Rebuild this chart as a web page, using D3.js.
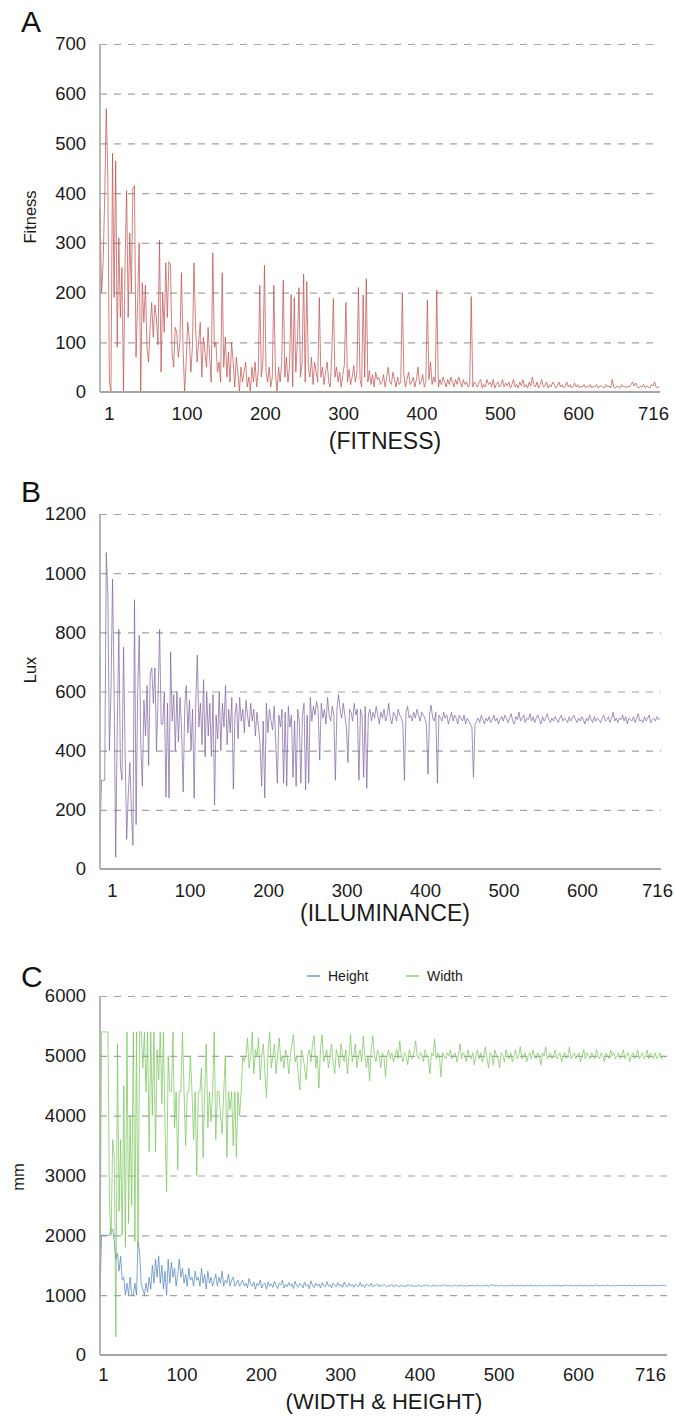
<!DOCTYPE html>
<html>
<head>
<meta charset="utf-8">
<script src="https://cdn.jsdelivr.net/npm/d3@7"></script>
<style>
  body { margin: 0; background: #fff; }
  svg { display: block; font-family: "Liberation Sans", Arial, sans-serif; }
</style>
</head>
<body>
<script>
// generations, sampled every second one (1, 3, ... 715)
const gens = d3.range(1, 717, 2);
const xTicks = [1, 100, 200, 300, 400, 500, 600, 716];

// (A) fitness per generation
const fitness = [
  370, 200, 260, 390, 570, 430, 20, 0, 480, 190,
  465, 90, 310, 150, 250, 0, 260, 405, 150, 320,
  200, 410, 415, 70, 180, 300, 0, 220, 140, 215,
  90, 60, 130, 180, 110, 175, 150, 95, 305, 40,
  200, 120, 260, 150, 262, 255, 80, 50, 130, 120,
  70, 100, 240, 90, 0, 60, 140, 110, 40, 90,
  260, 130, 60, 100, 140, 30, 110, 80, 50, 130,
  70, 20, 280, 90, 100, 40, 60, 20, 240, 50,
  110, 30, 80, 20, 100, 60, 10, 70, 40, 0,
  50, 20, 40, 60, 10, 30, 0, 50, 20, 60,
  10, 40, 215, 30, 60, 255, 40, 20, 50, 10,
  30, 215, 40, 0, 50, 20, 60, 225, 30, 70,
  20, 50, 196, 10, 190, 40, 100, 210, 30, 60,
  237, 20, 222, 50, 30, 70, 15, 60, 40, 20,
  190, 30, 50, 15, 40, 60, 20, 10, 78, 188,
  30, 50, 20, 40, 10, 35, 55, 180, 20, 45,
  15, 30, 53, 20, 40, 210, 25, 10, 195, 30,
  228, 20, 43, 15, 35, 10, 40, 25, 30, 15,
  20, 35, 10, 30, 50, 20, 15, 40, 25, 10,
  30, 15, 20, 200, 35, 10, 25, 40, 15, 20,
  30, 10, 25, 50, 15, 20, 35, 10, 20, 185,
  25, 60, 15, 30, 20, 205, 10, 25, 15, 30,
  20, 10, 25, 15, 30, 20, 10, 25, 15, 30,
  20, 10, 25, 15, 20, 10, 15, 192, 10, 20,
  15, 10, 20, 25, 8, 15, 10, 25, 15, 20,
  10, 25, 8, 15, 20, 10, 15, 25, 10, 18,
  12, 20, 8, 15, 25, 10, 15, 8, 20, 12,
  25, 10, 15, 8, 20, 12, 30, 15, 10, 20,
  8, 15, 25, 10, 12, 20, 8, 15, 10, 20,
  15, 8, 12, 20, 10, 15, 8, 12, 20, 10,
  15, 8, 12, 18, 10, 15, 8, 12, 10, 15,
  8, 12, 10, 15, 8, 12, 10, 15, 8, 12,
  12, 10, 8, 15, 10, 12, 8, 25, 10, 8,
  12, 10, 8, 15, 10, 12, 8, 12, 10, 15,
  20, 12, 18, 10, 8, 12, 10, 15, 8, 12,
  10, 8, 15, 12, 20, 10, 8, 12
];

// (B) illuminance in lux
const lux = [
  130, 300, 300, 300, 1070, 930, 400, 600, 980, 600,
  40, 480, 810, 350, 300, 750, 400, 100, 250, 360,
  200, 80, 910, 150, 600, 790, 420, 280, 570, 450,
  620, 350, 660, 680, 560, 680, 400, 580, 810, 490,
  490, 600, 243, 560, 240, 734, 500, 590, 400, 600,
  430, 580, 470, 260, 550, 620, 460, 570, 400, 540,
  240, 560, 723, 480, 560, 420, 640, 380, 600, 450,
  560, 380, 590, 216, 520, 440, 600, 400, 560, 480,
  620, 420, 540, 460, 580, 270, 520, 560, 440, 580,
  500, 540, 460, 570, 520, 480, 560, 500, 540, 450,
  530, 480, 420, 280, 500, 240, 560, 460, 540, 500,
  470, 550, 430, 290, 520, 480, 540, 290, 530, 280,
  550, 480, 520, 310, 500, 280, 540, 500, 290, 520,
  560, 267, 520, 290, 580, 500, 550, 520, 566, 540,
  368, 560, 510, 540, 490, 580, 520, 500, 550, 520,
  300, 540, 590, 540, 510, 560, 520, 480, 360, 540,
  530, 500, 560, 520, 540, 300, 540, 520, 310, 550,
  273, 520, 540, 500, 530, 510, 550, 520, 490, 530,
  510, 540, 500, 520, 560, 510, 490, 530, 520, 500,
  540, 520, 510, 490, 300, 530, 550, 510, 520, 500,
  530, 510, 540, 520, 500, 530, 520, 510, 490, 320,
  520, 554, 510, 500, 530, 290, 520, 510, 500, 530,
  510, 520, 490, 510, 530, 500, 520, 510, 490, 520,
  510, 500, 520, 490, 510, 500, 490, 480, 310, 490,
  500, 510, 495, 520, 505, 490, 510, 500, 515, 495,
  505, 520, 500, 510, 490, 505, 515, 500, 520, 510,
  495, 510, 525, 500, 490, 515, 505, 530, 500, 510,
  520, 495, 510, 505, 525, 500, 515, 495, 510, 520,
  505, 490, 515, 500, 510, 525, 505, 495, 510, 500,
  515, 505, 495, 510, 520, 500, 510, 505, 495, 515,
  500, 510, 520, 505, 495, 510, 500, 515, 505, 490,
  510, 500, 520, 505, 495, 515, 500, 510, 505, 495,
  510, 520, 500, 505, 515, 495, 510, 530, 500, 510,
  495, 510, 505, 520, 500, 515, 490, 510, 505, 500,
  515, 495, 510, 525, 500, 505, 495, 515, 500, 510,
  520, 495, 505, 510, 500, 515, 505, 510
];

// (C) window height in mm
const heightMm = [
  1000, 2000, 2000, 2000, 2000, 2000, 2000, 2100, 2100, 1900,
  1600, 1700, 1400, 1650, 1250, 1300, 1000, 1200, 1000, 1300,
  1000, 1000, 1200, 1000, 1900, 1700, 1200, 1100, 1000, 1200,
  1050, 1300, 1100, 1500, 1200, 1600, 1300, 1650, 1200, 1500,
  1100, 1400, 1000, 1600, 1200, 1550, 1300, 1450, 1150, 1350,
  1600, 1300, 1450, 1200, 1350, 1150, 1450, 1250, 1300, 1150,
  1400, 1250, 1300, 1150, 1450, 1200, 1350, 1100, 1400, 1200,
  1300, 1150, 1250, 1350, 1150, 1300, 1200, 1400, 1150, 1250,
  1200, 1350, 1150, 1250, 1300, 1150, 1200, 1250, 1150, 1200,
  1250, 1150, 1200, 1120, 1280, 1180, 1150, 1220, 1100, 1200,
  1160, 1250, 1120, 1180, 1200, 1100, 1220, 1150, 1190, 1130,
  1230, 1160, 1110, 1200, 1170, 1250, 1120, 1180, 1140, 1210,
  1150, 1190, 1110, 1230, 1160, 1130, 1200, 1170, 1120, 1220,
  1150, 1180, 1110, 1240, 1160, 1130, 1200, 1150, 1190, 1120,
  1210, 1160, 1140, 1230, 1150, 1180, 1120, 1200, 1160, 1140,
  1210, 1150, 1180, 1130, 1220, 1160, 1140, 1200, 1150, 1180,
  1130, 1190, 1160, 1140, 1210, 1150, 1170, 1130, 1190, 1160,
  1150, 1200, 1140, 1170, 1160, 1190, 1140, 1170, 1150, 1180,
  1160, 1140, 1170, 1150, 1180, 1140, 1160, 1170, 1150, 1140,
  1170, 1150, 1160, 1140, 1180, 1160, 1150, 1170, 1140, 1160,
  1150, 1170, 1160, 1140, 1165, 1155, 1175, 1150, 1160, 1145,
  1170, 1155, 1160, 1145, 1165, 1150, 1160, 1175, 1150, 1160,
  1155, 1165, 1145, 1160, 1170, 1150, 1160, 1155, 1170, 1150,
  1160, 1145, 1165, 1155, 1160, 1170, 1150, 1160, 1165, 1155,
  1160, 1150, 1170, 1155, 1165, 1150, 1160, 1185, 1155, 1160,
  1165, 1150, 1160, 1170, 1155, 1160, 1150, 1165, 1160, 1155,
  1170, 1160, 1150, 1165, 1155, 1160, 1170, 1150, 1160, 1165,
  1155, 1160, 1170, 1150, 1165, 1160, 1155, 1165, 1160, 1150,
  1165, 1160, 1155, 1170, 1160, 1150, 1165, 1160, 1155, 1165,
  1160, 1150, 1165, 1160, 1170, 1155, 1160, 1165, 1150, 1160,
  1165, 1155, 1160, 1170, 1160, 1155, 1165, 1160, 1150, 1165,
  1160, 1155, 1165, 1170, 1160, 1155, 1160, 1165, 1155, 1160,
  1170, 1160, 1155, 1165, 1160, 1150, 1165, 1160, 1155, 1170,
  1160, 1165, 1155, 1160, 1170, 1160, 1155, 1165, 1160, 1155,
  1165, 1160, 1170, 1155, 1160, 1165, 1160, 1155, 1170, 1160,
  1165, 1160, 1155, 1170, 1160, 1165, 1160, 1165
];

// (C) window width in mm
const widthMm = [
  1150, 5400, 5400, 5400, 5400, 5400, 2450, 2000, 3600, 3300,
  300, 5200, 2400, 3600, 2000, 4500, 1800, 5400, 2200, 4000,
  2500, 5400, 1900, 5400, 1800, 5400, 5400, 4800, 5400, 4400,
  5400, 3400, 5400, 4000, 5400, 3400, 5100, 4600, 5400, 4200,
  5400, 3800, 2730, 5000, 4400, 4400, 5400, 3800, 4400, 3100,
  4400, 4400, 5400, 4400, 3500, 4400, 4400, 5000, 4400, 3600,
  4400, 3000, 4400, 4400, 4800, 3300, 4400, 5200, 3800, 4400,
  3900, 4400, 5400, 3600, 4400, 4400, 4000, 3700, 4400, 5000,
  3300, 4400, 4100, 4400, 3500, 4400, 3300, 4400, 4000, 4400,
  5000, 4900, 5000, 5300, 4800, 5000, 5400, 4700, 5100, 5000,
  5300, 4600, 5000, 5200, 4700, 4300, 5100, 5400, 4800, 5000,
  5200, 4700, 5000, 5300, 4900, 5000, 4800, 5100, 5000, 4700,
  5000, 5200, 5350, 4900, 5000, 4700, 4430, 5100, 5000, 4800,
  4600, 5000, 5100, 4900, 5200, 5340, 4800, 5000, 4460, 5100,
  5350, 4900, 5000, 5100, 4800, 5000, 5200, 4900, 4700, 5100,
  5000, 4800, 5200, 5000, 4900, 5100, 4700, 5000, 5360, 4900,
  5000, 5200, 4800, 5000, 5100, 4900, 5330, 5000, 4800, 5000,
  4580, 5100, 5340, 5000, 4900, 5100, 5000, 4800, 5050, 5000,
  4650, 5000, 5100, 4950, 5050, 4900, 5000, 5100, 4950, 5250,
  5000, 4900, 5050, 5000, 4850, 5100, 5000, 4950, 5050, 5250,
  5000, 4950, 5050, 5000, 4900, 5100, 5000, 4950, 4700, 5050,
  5000, 5280, 4950, 5050, 5000, 4650, 5050, 5000, 4950, 5050,
  5000, 5100, 4950, 5000, 5050, 4900, 5000, 5200, 4950, 5050,
  5000, 4900, 5100, 5000, 4950, 5050, 4850, 5000, 5100, 4950,
  5050, 4900, 5000, 5150, 4950, 4800, 5050, 5000, 4850, 5100,
  5000, 4950, 4800, 5050, 5000, 4900, 5100, 5000, 4950, 5050,
  4900, 5000, 5100, 4950, 5000, 5150, 4950, 5000, 5050, 4900,
  5000, 5050, 4950, 5100, 5000, 4950, 5050, 5000, 4850, 5050,
  5000, 5150, 4950, 5000, 5050, 4950, 5000, 5100, 4950, 5000,
  5050, 4900, 5000, 5050, 4950, 5000, 5150, 4950, 5000, 5050,
  4950, 5000, 5050, 4900, 5000, 5100, 4950, 5050, 5000, 4950,
  5050, 5000, 4950, 5100, 5000, 4950, 5050, 5000, 4900, 5050,
  5000, 4950, 5100, 5000, 5050, 4950, 5000, 5050, 4950, 5000,
  5100, 4950, 5000, 5050, 4900, 5000, 5050, 4950, 5000, 5100,
  4950, 5000, 5050, 4950, 5000, 5100, 4950, 5050, 5000, 4950,
  5050, 4950, 5000, 5050, 4950, 5000, 4980, 5000
];

const W = 675, H = 1416;
const left = 100;

const panels = [
  { letter: "A", letterY: 32, top: 44, bottom: 392, right: 660, yMax: 700, yStep: 100,
    yTitle: "Fitness", yTitleX: 36, yTitleY: 217, xTitle: "(FITNESS)", xTitleX: 385, xTitleY: 449, titleSize: 23,
    tickShift: 9, lastShift: -7, tickPad: 15,
    series: [{ name: "Fitness", values: fitness, color: "#c0504d" }] },
  { letter: "B", letterY: 502, top: 514, bottom: 869, right: 661, yMax: 1200, yStep: 200,
    yTitle: "Lux", yTitleX: 36, yTitleY: 670, xTitle: "(ILLUMINANCE)", xTitleX: 385, xTitleY: 921, titleSize: 23,
    tickShift: 12, lastShift: -4, tickPad: 15,
    series: [{ name: "Lux", values: lux, color: "#8064a2" }] },
  { letter: "C", letterY: 987, top: 996, bottom: 1355, right: 667, yMax: 6000, yStep: 1000,
    yTitle: "mm", yTitleX: 24, yTitleY: 1177, xTitle: "(WIDTH & HEIGHT)", xTitleX: 384, xTitleY: 1409, titleSize: 22,
    tickShift: 3, lastShift: -17, tickPad: 13, legend: true,
    series: [{ name: "Height", values: heightMm, color: "#4f81bd" },
             { name: "Width", values: widthMm, color: "#77c556" }] }
];

const svg = d3.select("body").append("svg")
  .attr("width", W)
  .attr("height", H);

panels.forEach(p => {
  const g = svg.append("g");

  const x = d3.scaleLinear().domain([1, 716]).range([left, p.right]);
  const y = d3.scaleLinear().domain([0, p.yMax]).range([p.bottom, p.top]);
  const yTicks = d3.range(0, p.yMax + 1, p.yStep);

  // dashed gridlines
  g.append("g")
    .attr("transform", `translate(${left},0)`)
    .call(d3.axisLeft(y).tickValues(yTicks.slice(1)).tickSize(-(p.right - left)).tickFormat(""))
    .call(a => a.select(".domain").remove())
    .selectAll("line")
    .attr("stroke", "#a3a3a3")
    .attr("stroke-width", 1.2)
    .attr("stroke-dasharray", "7,7");

  // y tick labels
  g.append("g")
    .attr("transform", `translate(${left},0)`)
    .call(d3.axisLeft(y).tickValues(yTicks).tickSize(0).tickPadding(14).tickFormat(d3.format("d")))
    .call(a => a.select(".domain").remove())
    .selectAll("text")
    .attr("font-family", "Liberation Sans, Arial, sans-serif")
    .attr("font-size", 18.5)
    .attr("fill", "#1a1a1a");

  // x tick labels
  g.append("g")
    .attr("transform", `translate(0,${p.bottom})`)
    .call(d3.axisBottom(x).tickValues(xTicks).tickSize(0).tickPadding(p.tickPad).tickFormat(d3.format("d")))
    .call(a => a.select(".domain").remove())
    .selectAll("text")
    .attr("dx", d => d === 716 ? p.lastShift : p.tickShift)
    .attr("font-family", "Liberation Sans, Arial, sans-serif")
    .attr("font-size", 18.5)
    .attr("fill", "#1a1a1a");

  // data lines
  const line = d3.line()
    .x((d, i) => x(gens[i]))
    .y(d => y(d));

  p.series.forEach(s => {
    g.append("path")
      .datum(s.values.slice(0, gens.length))
      .attr("fill", "none")
      .attr("stroke", s.color)
      .attr("stroke-width", 0.8)
      .attr("stroke-opacity", 0.9)
      .attr("stroke-linejoin", "round")
      .attr("d", line);
  });

  // axis lines
  g.append("line")
    .attr("x1", left).attr("x2", left)
    .attr("y1", p.top).attr("y2", p.bottom)
    .attr("stroke", "#a6a6a6").attr("stroke-width", 1.6);
  g.append("line")
    .attr("x1", left).attr("x2", p.right)
    .attr("y1", p.bottom).attr("y2", p.bottom)
    .attr("stroke", "#a6a6a6").attr("stroke-width", 1.8);

  // panel letter
  g.append("text")
    .attr("x", 21).attr("y", p.letterY)
    .attr("font-size", 30)
    .attr("fill", "#111")
    .text(p.letter);

  // y title
  g.append("text")
    .attr("transform", `translate(${p.yTitleX},${p.yTitleY}) rotate(-90)`)
    .attr("text-anchor", "middle")
    .attr("font-size", 16.5)
    .attr("fill", "#1a1a1a")
    .text(p.yTitle);

  // x title
  g.append("text")
    .attr("x", p.xTitleX).attr("y", p.xTitleY)
    .attr("text-anchor", "middle")
    .attr("font-size", p.titleSize)
    .attr("fill", "#1a1a1a")
    .text(p.xTitle);

  if (p.legend) {
    const legendX = [307, 406];
    const lg = g.append("g").attr("transform", "translate(0,976)");
    p.series.forEach((s, i) => {
      lg.append("line")
        .attr("x1", legendX[i]).attr("x2", legendX[i] + 13)
        .attr("y1", 0).attr("y2", 0)
        .attr("stroke", s.color).attr("stroke-width", 1.2);
      lg.append("text")
        .attr("x", legendX[i] + 21).attr("y", 5)
        .attr("font-size", 14)
        .attr("fill", "#1a1a1a")
        .text(s.name);
    });
  }
});
</script>
</body>
</html>
